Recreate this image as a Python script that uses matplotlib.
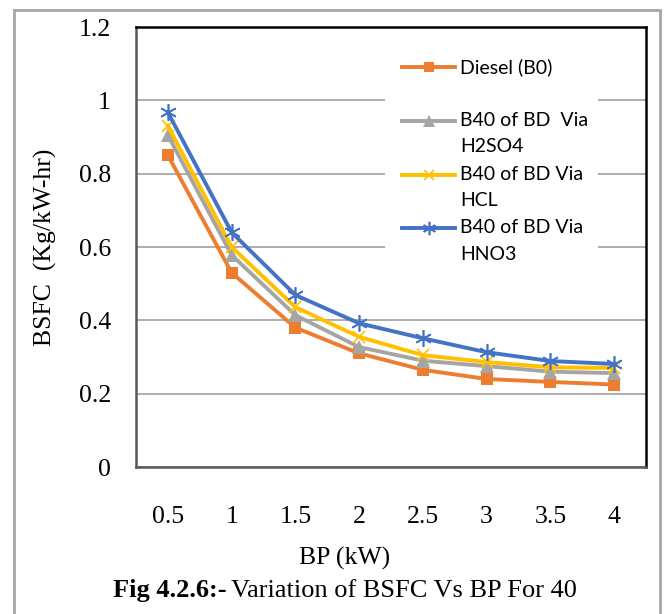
import numpy as np
import matplotlib.pyplot as plt
from matplotlib.patches import Rectangle
from matplotlib.lines import Line2D

# data
bp = ['0.5', '1', '1.5', '2', '2.5', '3', '3.5', '4']
diesel = [0.85, 0.53, 0.38, 0.31, 0.265, 0.24, 0.232, 0.225]
h2so4 = [0.905, 0.578, 0.414, 0.327, 0.29, 0.275, 0.26, 0.256]
hcl = [0.93, 0.60, 0.436, 0.355, 0.305, 0.286, 0.272, 0.27]
hno3 = [0.967, 0.64, 0.469, 0.392, 0.351, 0.313, 0.289, 0.281]
labels = [['Diesel (B0)'], ['B40 of BD  Via', 'H2SO4'], ['B40 of BD Via', 'HCL'], ['B40 of BD Via', 'HNO3']]

serif = 'Liberation Serif'
leg_font = 'Lato'
W, H = 666, 614

fig = plt.figure(figsize=(6.66, 6.14), dpi=100)
ax = fig.add_axes([136/W, 1-467/H, (646-136)/W, (467-27)/H])

x = np.arange(len(bp))
styles = [
    dict(color='#ED7D31', marker='s', ms=9, mew=0),
    dict(color='#A5A5A5', marker='^', ms=10, mew=0),
    dict(color='#FFC000', marker='x', ms=9, mew=1.2),
    dict(color='#4472C4', marker=(6, 2, 0), ms=12, mew=1.2),
]
for ys, st in zip([diesel, h2so4, hcl, hno3], styles):
    ax.plot(x, ys, lw=2.8, **st, zorder=2)

ax.set_xlim(-0.5, len(bp) - 0.5)
ax.set_ylim(0, 1.2)
ax.set_xticks(x)
ax.set_xticklabels(bp)
ax.set_yticks([0, 0.2, 0.4, 0.6, 0.8, 1.0, 1.2])
ax.set_yticklabels(['0', '0.2', '0.4', '0.6', '0.8', '1', '1.2'])
ax.tick_params(axis='y', length=0, pad=18, labelsize=18.5)
ax.tick_params(axis='x', length=0, pad=28, labelsize=18.5)
for lab in ax.get_xticklabels() + ax.get_yticklabels():
    lab.set_fontfamily(serif)
ax.yaxis.grid(True, color='#A0A0A0', lw=1.2)
ax.set_axisbelow(True)

ax.spines['left'].set_color('#595959')
ax.spines['bottom'].set_color('#595959')
ax.spines['top'].set_color('black')
ax.spines['right'].set_color('black')
for s in ax.spines.values():
    s.set_linewidth(1.8)

ax.set_ylabel('BSFC  (Kg/kW-hr)', fontfamily=serif, fontsize=18.5, labelpad=16)

# legend drawn by hand so the marker sits on the first text line (as in Excel)
fig.add_artist(Rectangle((385/W, 1-268/H), (598-385)/W, (268-32)/H,
                         transform=fig.transFigure, fc='white', ec='none', zorder=3))
rows_y = [67, 121, 175, 228]
for lines, st, yy in zip(labels, styles, rows_y):
    yf = 1 - yy/H
    fig.add_artist(Line2D([402/W, 455/W], [yf, yf], transform=fig.transFigure,
                          color=st['color'], lw=2.8, zorder=4))
    fig.add_artist(Line2D([428.5/W], [yf], transform=fig.transFigure, color=st['color'],
                          marker=st['marker'], ms=st['ms']*0.8, mew=st['mew'], zorder=5))
    for k, line in enumerate(lines):
        fig.text(460/W, 1 - (yy + 26*k)/H, line, ha='left', va='center',
                 fontfamily=leg_font, fontsize=14, zorder=6)

fig.text(345/W, 1-558/H, 'BP (kW)', ha='center', va='center',
         fontfamily=serif, fontsize=18.5)
t1 = fig.text(113/W, 1-591/H, 'Fig 4.2.6:-', ha='left', va='center',
              fontfamily=serif, fontsize=19, fontweight='bold')
fig.canvas.draw()
bb = t1.get_window_extent()
fig.text(bb.x1/W + 0.007, 1-591/H, 'Variation of BSFC Vs BP For 40', ha='left',
         va='center', fontfamily=serif, fontsize=19)

# outer frame of the figure box
fig.add_artist(Rectangle((14/W, -0.05), (660-14)/W, 1.05 - 10/H,
                         transform=fig.transFigure, fill=False, ec='#A6A6A6', lw=2))

fig.savefig('out.png', dpi=100)
